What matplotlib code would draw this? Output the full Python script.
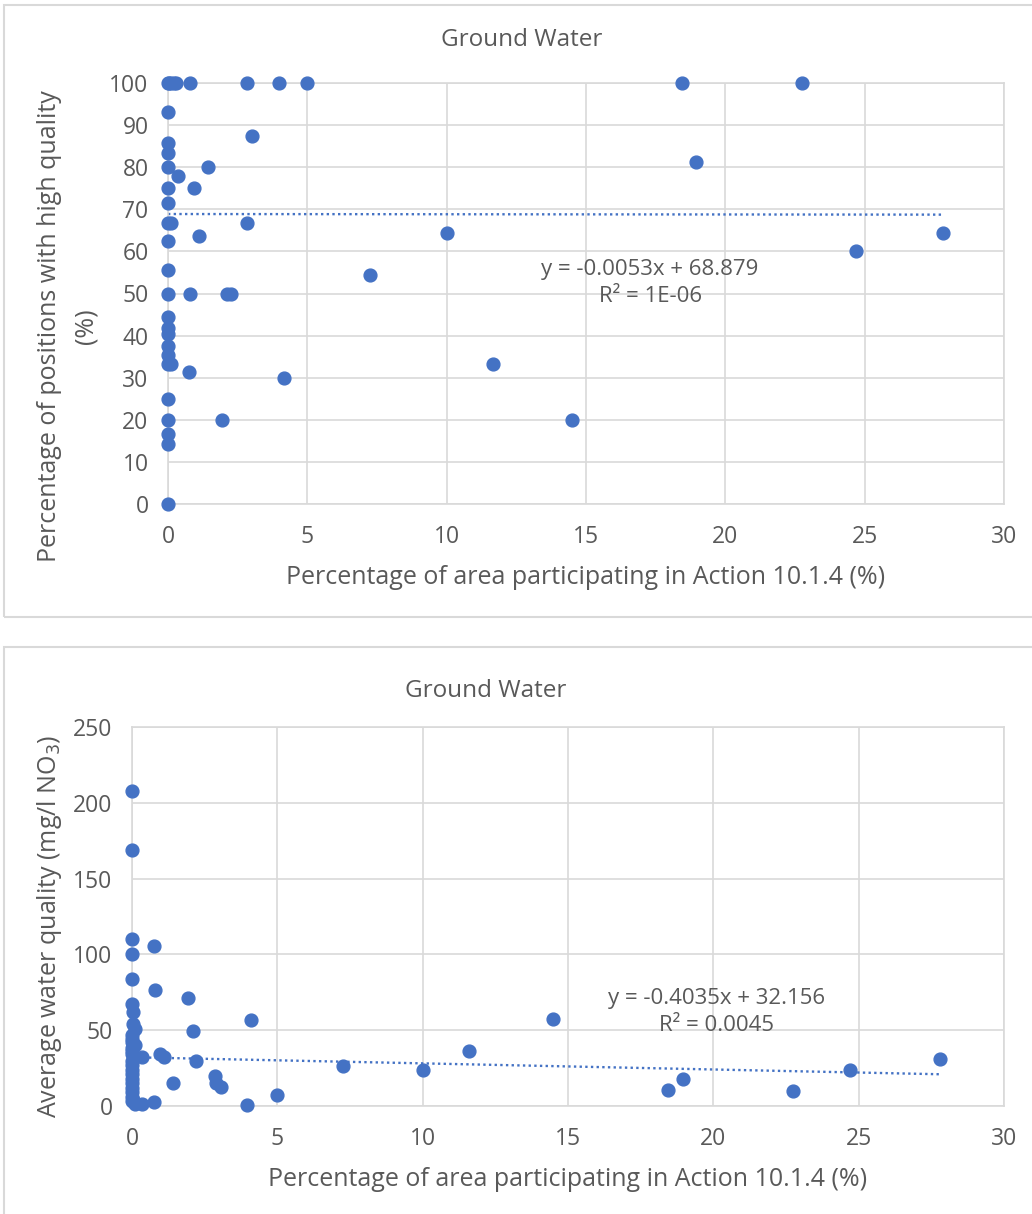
import numpy as np
import matplotlib
matplotlib.use("Agg")
import matplotlib.pyplot as plt
from matplotlib.patches import Rectangle

# -------------------------------
# Data
# -------------------------------
# top chart: area share (%) vs share of positions with high quality (%)
area_top = [0, 0.05, 0.1, 0.2, 0.3, 0.8, 2.85, 4.0, 5.0, 18.45, 22.75,
            0, 0, 0, 0, 3.0, 1.43, 0.35, 18.95, 0, 0.93, 0,
            0, 0.1, 2.85, 0, 1.1, 10.0, 27.8, 24.7, 0, 7.25,
            0, 0.78, 2.1, 2.25, 0, 0, 0, 0, 0, 0,
            0.1, 11.65, 0.75, 4.15, 0, 0, 1.95, 14.5, 0, 0, 0]
quality_top = [100, 100, 100, 100, 100, 100, 100, 100, 100, 100, 100,
               93, 85.7, 83.3, 80, 87.5, 80, 77.8, 81.25, 75, 75, 71.4,
               66.7, 66.7, 66.7, 62.5, 63.6, 64.3, 64.3, 60, 55.6, 54.5,
               50, 50, 50, 50, 44.4, 41.7, 40.3, 37.5, 35.3, 33.3,
               33.3, 33.3, 31.25, 30, 25, 20, 20, 20, 16.7, 14.3, 0]

# bottom chart: area share (%) vs average nitrate (mg/l NO3)
area_bot = [0, 0, 0, 0, 0, 0, 0.05, 0.05, 0.1, 0.12,
            0, 0, 0, 0, 0, 0, 0, 0, 0, 0, 0, 0, 0, 0, 0, 0, 0.05, 0.1,
            0.75, 0.78, 1.92, 4.1, 2.1, 0.35, 0.95, 1.1, 2.2, 1.4,
            2.85, 2.9, 3.05, 0.75, 0.35, 3.95, 5.0, 7.25, 10.0, 11.6,
            14.5, 18.45, 18.95, 22.75, 24.7, 27.8]
nitrate_bot = [208, 169, 110, 100, 84, 67, 62, 54, 51, 40,
               47, 44, 42, 38, 36, 34, 30, 27, 24, 21, 18, 15, 12, 9, 6, 3, 4, 1,
               105.5, 76.5, 71.5, 56.5, 49.5, 32, 34, 32, 30, 15,
               19.5, 15, 12.5, 2.5, 1, 0.5, 7.5, 26.5, 23.5, 36.5,
               57.5, 10.5, 18, 10, 24, 31]

# trendline coefficients as printed on the charts
slope_top, icpt_top = -0.0053, 68.879
slope_bot, icpt_bot = -0.4035, 32.156
trend_x = [0, 27.8]

BLUE = "#4472C4"
TXT = "#595959"
GRID = "#d9d9d9"

plt.rcParams["font.family"] = ["Open Sans", "DejaVu Sans"]

fig = plt.figure(figsize=(10.32, 12.14), dpi=100)
W, H = 1032, 1214


def px_axes(left, top, right, bottom):
    return fig.add_axes([left / W, 1 - bottom / H, (right - left) / W, (bottom - top) / H])


def px_text(x, y, s, **kw):
    fig.text(x / W, 1 - y / H, s, ha="center", va="center", color=TXT, **kw)


def style(ax, ymax, ystep):
    ax.set_xlim(0, 30)
    ax.set_ylim(0, ymax)
    ax.set_xticks(np.arange(0, 31, 5))
    ax.set_yticks(np.arange(0, ymax + 1, ystep))
    ax.grid(True, color=GRID, linewidth=1.2)
    ax.set_axisbelow(True)
    for s in ax.spines.values():
        s.set_color(GRID)
        s.set_linewidth(1.2)
    ax.tick_params(length=0, labelsize=16.5, labelcolor=TXT)
    ax.tick_params(axis="x", pad=15)
    ax.tick_params(axis="y", pad=14)


# chart frames
fig.add_artist(Rectangle((4 / W, 1 - 617 / H), 1.1, (617 - 5) / H,
                         transform=fig.transFigure, fill=False, edgecolor=GRID, linewidth=1.5))
fig.add_artist(Rectangle((4 / W, -0.1), 1.1, 1 - 647 / H + 0.1,
                         transform=fig.transFigure, fill=False, edgecolor=GRID, linewidth=1.5))

# -------------------------------
# top chart
# -------------------------------
ax1 = px_axes(168, 83, 1004, 504)
style(ax1, 100, 10)
ax1.scatter(area_top, quality_top, s=85, color=BLUE, zorder=3, clip_on=False)
ax1.plot(trend_x, [icpt_top + slope_top * v for v in trend_x], color=BLUE,
         linewidth=1.7, linestyle=(0, (1, 1.4)), zorder=2)
ax1.text(17.3, 52.5, "y = -0.0053x + 68.879\nR² = 1E-06", ha="center", va="center",
         fontsize=16, color=TXT, linespacing=1.35)
px_text(522, 40, "Ground Water", fontsize=17.5)
ax1.set_xlabel("Percentage of area participating in Action 10.1.4 (%)", fontsize=18,
               color=TXT, labelpad=12)
px_text(50, 326, "Percentage of positions with high quality", fontsize=18, rotation=90)
px_text(86, 326, "(%)", fontsize=18, rotation=90)

# -------------------------------
# bottom chart
# -------------------------------
ax2 = px_axes(132, 727, 1004, 1106)
style(ax2, 250, 50)
ax2.scatter(area_bot, nitrate_bot, s=85, color=BLUE, zorder=3, clip_on=False)
ax2.plot(trend_x, [icpt_bot + slope_bot * v for v in trend_x], color=BLUE,
         linewidth=1.7, linestyle=(0, (1, 1.4)), zorder=2)
ax2.text(20.1, 62, "y = -0.4035x + 32.156\nR² = 0.0045", ha="center", va="center",
         fontsize=16, color=TXT, linespacing=1.35)
px_text(486, 691, "Ground Water", fontsize=17.5)
ax2.set_xlabel("Percentage of area participating in Action 10.1.4 (%)", fontsize=18,
               color=TXT, labelpad=12)
px_text(50, 926, "Average water quality (mg/l NO$_3$)", fontsize=18, rotation=90)

fig.savefig("out.png", dpi=100)
